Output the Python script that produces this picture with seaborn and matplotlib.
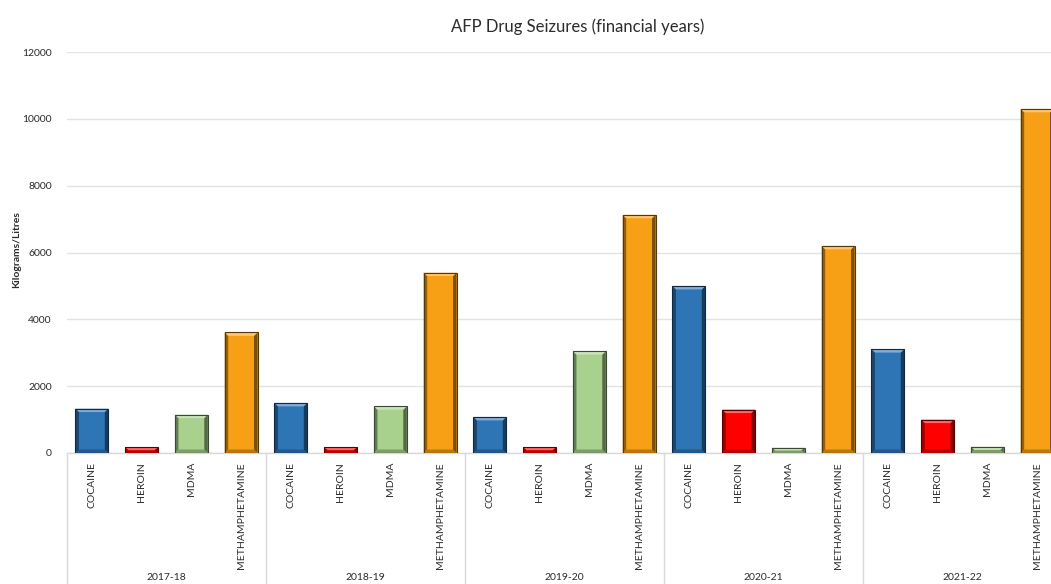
import matplotlib
matplotlib.use("Agg")
import matplotlib.pyplot as plt
from matplotlib.patches import Polygon
from matplotlib.transforms import blended_transform_factory
import numpy as np
import pandas as pd
import seaborn as sns

# Seizure weights by financial year (kilograms / litres)
years = ["2017-18", "2018-19", "2019-20", "2020-21", "2021-22"]
drugs = ["COCAINE", "HEROIN", "MDMA", "METHAMPHETAMINE"]
cocaine = [1330, 1500, 1080, 5000, 3110]
heroin = [170, 170, 170, 1300, 1000]
mdma = [1150, 1400, 3050, 160, 190]
methamphetamine = [3610, 5400, 7130, 6200, 10300]
drug_colors = ["#2E75B6", "#FF0000", "#A9D18E", "#F7A016"]

series = {"COCAINE": cocaine, "HEROIN": heroin, "MDMA": mdma,
          "METHAMPHETAMINE": methamphetamine}
rows = []
for yi, yr in enumerate(years):
    for d in drugs:
        rows.append({"slot": f"{yr}|{d}", "year": yr, "drug": d,
                     "value": series[d][yi]})
df = pd.DataFrame(rows)

sns.set_theme(style="white")
plt.rcParams["font.family"] = ["Lato", "DejaVu Sans"]

W, H = 1051, 584
fig = plt.figure(figsize=(W / 100, H / 100), dpi=100)
ax_left, ax_right, ax_bottom, ax_top = 67, 1062, 453, 52
ax = fig.add_axes([ax_left / W, 1 - ax_bottom / H,
                   (ax_right - ax_left) / W, (ax_bottom - ax_top) / H])

sns.barplot(data=df, x="slot", y="value", hue="drug", order=df["slot"],
            hue_order=drugs, palette=drug_colors, dodge=False, width=0.66,
            saturation=1, legend=False, ax=ax, zorder=3)

ax.set_ylim(0, 12000)
ax.set_xlim(-0.5, len(df) - 0.5)
ax.set_yticks(np.arange(0, 12001, 2000))
ax.yaxis.grid(True, color="#E3E3E3", lw=1.0, zorder=0)
ax.set_axisbelow(True)
for s in ["top", "right", "left"]:
    ax.spines[s].set_visible(False)
ax.spines["bottom"].set_color("#D9D9D9")
ax.spines["bottom"].set_linewidth(1.0)
ax.tick_params(axis="y", length=0, pad=11, labelsize=7.5, labelcolor="#2b2b2b")
ax.set_xticks([])
ax.set_xlabel("")
ax.set_ylabel("")
fig.text(17 / W, 1 - 250 / H, "Kilograms/Litres", rotation=90, ha="center",
         va="center", fontsize=7.5, color="#2b2b2b", fontweight="bold")

# Bevelled look on each bar: light top, darker sides
px_x = 1 / 49.75
px_y = 12000 / 401
for patch in list(ax.patches):
    x0, y0 = patch.get_x(), patch.get_y()
    w, h = patch.get_width(), patch.get_height()
    if h <= 0:
        continue
    base = np.array(patch.get_facecolor()[:3])
    dark = base * 0.35
    light = np.clip(base + (1 - base) * 0.4, 0, 1)
    patch.set_edgecolor("none")
    bx = 3.5 * px_x
    by = min(3.5 * px_y, h / 2)
    top = Polygon([(x0, y0 + h), (x0 + w, y0 + h), (x0 + w - bx, y0 + h - by),
                   (x0 + bx, y0 + h - by)], closed=True, facecolor=light,
                  edgecolor="none", zorder=4)
    right = Polygon([(x0 + w, y0 + h), (x0 + w, y0), (x0 + w - bx, y0 + by),
                     (x0 + w - bx, y0 + h - by)], closed=True,
                    facecolor=base * 0.5, edgecolor="none", zorder=4)
    bottom = Polygon([(x0, y0), (x0 + w, y0), (x0 + w - bx, y0 + by),
                      (x0 + bx, y0 + by)], closed=True, facecolor=base * 0.75,
                     edgecolor="none", zorder=4)
    left = Polygon([(x0, y0), (x0, y0 + h), (x0 + bx, y0 + h - by),
                    (x0 + bx, y0 + by)], closed=True, facecolor=base * 0.6,
                   edgecolor="none", zorder=4)
    for p in (left, bottom, right, top):
        ax.add_patch(p)
    ax.add_patch(plt.Rectangle((x0, y0), w, h, fill=False, edgecolor=dark,
                               lw=0.8, zorder=5))

# Two-level category axis: drug names and year groups
tr = blended_transform_factory(ax.transData, ax.transAxes)
span = ax_bottom - ax_top
for i, d in enumerate(df["drug"]):
    ax.text(i, -9 / span, d, transform=tr, rotation=90, ha="center", va="top",
            fontsize=7.5, color="#2b2b2b", clip_on=False)
for gi, yr in enumerate(years):
    ax.text(gi * 4 + 1.5, -120 / span, yr, transform=tr, ha="center",
            va="top", fontsize=7.5, color="#2b2b2b", clip_on=False)
for b in range(len(years) + 1):
    ax.plot([b * 4 - 0.5, b * 4 - 0.5], [0, -0.4], transform=tr,
            color="#D9D9D9", lw=1.0, clip_on=False)

fig.text(578 / W, 1 - 27 / H, "AFP Drug Seizures (financial years)",
         ha="center", va="center", fontsize=12, color="#2b2b2b")

fig.savefig("out.png", dpi=100)
